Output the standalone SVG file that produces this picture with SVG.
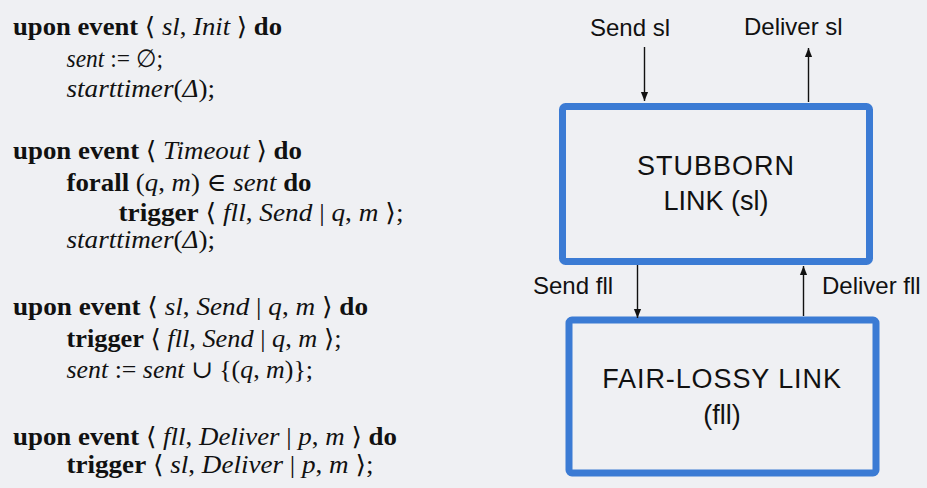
<svg xmlns="http://www.w3.org/2000/svg" width="927" height="488" viewBox="0 0 927 488">
<style>
.code{font-family:"Liberation Serif","DejaVu Serif",serif;font-size:25px;fill:#111}
.b{font-weight:bold}
.i{font-style:italic}
.m{font-family:"DejaVu Serif","Liberation Serif",serif;font-size:25px}
.lbl{font-family:"Liberation Sans",Arial,sans-serif;font-size:24px;fill:#111}
.box{fill:none;stroke:#3b7bd4;stroke-width:7}
.ttl{font-family:"Liberation Sans",Arial,sans-serif;font-size:27px;fill:#111;text-anchor:middle}
.arr{stroke:#111;stroke-width:1.4;fill:none;marker-end:url(#ah)}
</style>
<defs>
<marker id="ah" viewBox="0 0 10 10" refX="10" refY="5" markerWidth="9" markerHeight="9" markerUnits="userSpaceOnUse" orient="auto">
<path d="M0,1 L10,5 L0,9 z" fill="#111"/>
</marker>
</defs>
<rect width="927" height="488" fill="#eff0f3"/>
<g id="code">
<text class="code" x="13" y="35" textLength="269" lengthAdjust="spacingAndGlyphs"><tspan class="b">upon event</tspan> <tspan class="m">⟨</tspan> <tspan class="i">sl</tspan>, <tspan class="i">Init</tspan> <tspan class="m">⟩</tspan> <tspan class="b">do</tspan></text>
<text class="code" x="66.5" y="67" textLength="96.5" lengthAdjust="spacingAndGlyphs"><tspan class="i">sent</tspan> := ∅;</text>
<text class="code" x="66.5" y="97" textLength="148.5" lengthAdjust="spacingAndGlyphs"><tspan class="i">starttimer</tspan>(<tspan class="i">Δ</tspan>);</text>

<text class="code" x="13" y="159" textLength="289" lengthAdjust="spacingAndGlyphs"><tspan class="b">upon event</tspan> <tspan class="m">⟨</tspan> <tspan class="i">Timeout</tspan> <tspan class="m">⟩</tspan> <tspan class="b">do</tspan></text>
<text class="code" x="66.5" y="191" textLength="245" lengthAdjust="spacingAndGlyphs"><tspan class="b">forall</tspan> (<tspan class="i">q</tspan>, <tspan class="i">m</tspan>) ∈ <tspan class="i">sent</tspan> <tspan class="b">do</tspan></text>
<text class="code" x="118.5" y="221" textLength="285" lengthAdjust="spacingAndGlyphs"><tspan class="b">trigger</tspan> <tspan class="m">⟨</tspan> <tspan class="i">fll</tspan>, <tspan class="i">Send</tspan> | <tspan class="i">q</tspan>, <tspan class="i">m</tspan> <tspan class="m">⟩</tspan>;</text>
<text class="code" x="66.5" y="248" textLength="148.5" lengthAdjust="spacingAndGlyphs"><tspan class="i">starttimer</tspan>(<tspan class="i">Δ</tspan>);</text>

<text class="code" x="13" y="315" textLength="355" lengthAdjust="spacingAndGlyphs"><tspan class="b">upon event</tspan> <tspan class="m">⟨</tspan> <tspan class="i">sl</tspan>, <tspan class="i">Send</tspan> | <tspan class="i">q</tspan>, <tspan class="i">m</tspan> <tspan class="m">⟩</tspan> <tspan class="b">do</tspan></text>
<text class="code" x="66.5" y="347" textLength="275" lengthAdjust="spacingAndGlyphs"><tspan class="b">trigger</tspan> <tspan class="m">⟨</tspan> <tspan class="i">fll</tspan>, <tspan class="i">Send</tspan> | <tspan class="i">q</tspan>, <tspan class="i">m</tspan> <tspan class="m">⟩</tspan>;</text>
<text class="code" x="66.5" y="378" textLength="246.5" lengthAdjust="spacingAndGlyphs"><tspan class="i">sent</tspan> := <tspan class="i">sent</tspan> ∪ {(<tspan class="i">q</tspan>, <tspan class="i">m</tspan>)};</text>

<text class="code" x="13" y="445" textLength="384" lengthAdjust="spacingAndGlyphs"><tspan class="b">upon event</tspan> <tspan class="m">⟨</tspan> <tspan class="i">fll</tspan>, <tspan class="i">Deliver</tspan> | <tspan class="i">p</tspan>, <tspan class="i">m</tspan> <tspan class="m">⟩</tspan> <tspan class="b">do</tspan></text>
<text class="code" x="66.5" y="473" textLength="307" lengthAdjust="spacingAndGlyphs"><tspan class="b">trigger</tspan> <tspan class="m">⟨</tspan> <tspan class="i">sl</tspan>, <tspan class="i">Deliver</tspan> | <tspan class="i">p</tspan>, <tspan class="i">m</tspan> <tspan class="m">⟩</tspan>;</text>
</g>
<g id="stubborn">
<rect class="box" x="562.5" y="106.5" width="307" height="155" rx="3"/>
<text class="ttl" x="716" y="175" letter-spacing="1">STUBBORN</text>
<text class="ttl" x="716" y="210">LINK (sl)</text>
</g>
<g id="fairlossy">
<rect class="box" x="569" y="320" width="307" height="153" rx="3"/>
<text class="ttl" x="722" y="388" letter-spacing="0.9">FAIR-LOSSY LINK</text>
<text class="ttl" x="722" y="424">(fll)</text>
</g>
<g id="connectors">
<line class="arr" x1="644.5" y1="47" x2="644.5" y2="101"/>
<line class="arr" x1="808.5" y1="102" x2="808.5" y2="48"/>
<line class="arr" x1="637.5" y1="265" x2="637.5" y2="318"/>
<line class="arr" x1="803.5" y1="316" x2="803.5" y2="266"/>
<text class="lbl" x="590" y="36">Send sl</text>
<text class="lbl" x="744" y="35">Deliver sl</text>
<text class="lbl" x="533" y="294">Send fll</text>
<text class="lbl" x="822" y="294">Deliver fll</text>
</g>
</svg>
